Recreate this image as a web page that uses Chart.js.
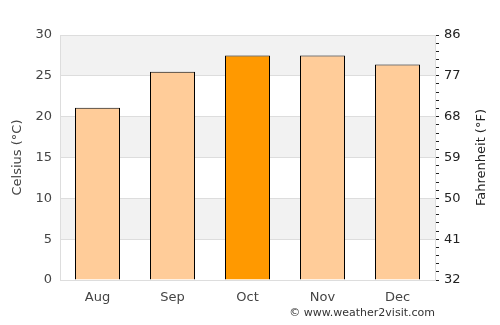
<!DOCTYPE html>
<html>
<head>
<meta charset="utf-8">
<script src="https://cdn.jsdelivr.net/npm/chart.js@4"></script>
<style>
  html, body { margin: 0; padding: 0; background: #fff; }
  #wrap { width: 500px; height: 325px; }
</style>
</head>
<body>
<div id="wrap"><canvas id="tempChart" width="500" height="325"></canvas></div>
<script>
const months = ['Aug', 'Sep', 'Oct', 'Nov', 'Dec'];
const celsius = [21.1, 25.5, 27.5, 27.5, 26.4];
const barColors = ['#ffcc99', '#ffcc99', '#ff9900', '#ffcc99', '#ffcc99'];
const celsiusTicks = [0, 5, 10, 15, 20, 25, 30];
const fahrenheitTicks = [32, 41, 50, 59, 68, 77, 86];

const fontFamily = '"DejaVu Sans", sans-serif';

// alternating grey bands behind the grid and bars
const bandsPlugin = {
    id: 'bands',
    beforeDraw(chart) {
        const { ctx, chartArea, scales } = chart;
        const y = scales.y;
        ctx.save();
        ctx.fillStyle = '#f2f2f2';
        for (let i = celsiusTicks.length - 1; i > 0; i -= 2) {
            const top = y.getPixelForValue(celsiusTicks[i]);
            const bottom = y.getPixelForValue(celsiusTicks[i - 1]);
            ctx.fillRect(chartArea.left, top, chartArea.right - chartArea.left, bottom - top);
        }
        ctx.restore();
    }
};

// axis titles and credit line
const textPlugin = {
    id: 'texts',
    afterDraw(chart) {
        const ctx = chart.ctx;
        const area = chart.chartArea;
        const midY = (area.top + area.bottom) / 2;
        ctx.save();
        ctx.textAlign = 'center';
        ctx.textBaseline = 'middle';
        ctx.font = '13px ' + fontFamily;

        ctx.save();
        ctx.translate(18, midY);
        ctx.rotate(-Math.PI / 2);
        ctx.fillStyle = '#444';
        ctx.fillText('Celsius (°C)', 0, 0);
        ctx.restore();

        ctx.save();
        ctx.translate(482, midY);
        ctx.rotate(-Math.PI / 2);
        ctx.fillStyle = '#222';
        ctx.fillText('Fahrenheit (°F)', 0, 0);
        ctx.restore();

        ctx.font = '11px ' + fontFamily;
        ctx.fillStyle = '#333';
        ctx.textAlign = 'right';
        ctx.fillText('\u00a9 www.weather2visit.com', 435, 313);
        ctx.restore();
    }
};

const ctx = document.getElementById('tempChart').getContext('2d');
new Chart(ctx, {
    type: 'bar',
    data: {
        labels: months,
        datasets: [{
            data: celsius,
            backgroundColor: barColors,
            borderColor: '#000',
            borderWidth: 1,
            borderSkipped: 'bottom',
            barPercentage: 0.6,
            categoryPercentage: 1
        }]
    },
    options: {
        responsive: false,
        animation: false,
        devicePixelRatio: 1,
        layout: { padding: { top: 35, left: 0, right: 0, bottom: 0 } },
        plugins: {
            legend: { display: false },
            tooltip: { enabled: false }
        },
        scales: {
            x: {
                grid: { display: false },
                border: { color: '#dddddd' },
                ticks: { color: '#444', font: { family: fontFamily, size: 13 }, padding: 2 },
                afterFit(scale) { scale.height = 45; }
            },
            y: {
                position: 'left',
                min: 0,
                max: 30,
                ticks: { stepSize: 5, color: '#444', font: { family: fontFamily, size: 13 }, padding: 8 },
                grid: { color: '#dddddd', drawTicks: false },
                border: { color: '#dddddd' },
                afterFit(scale) { scale.width = 60; }
            },
            y2: {
                position: 'right',
                min: 0,
                max: 30,
                ticks: {
                    stepSize: 1,
                    autoSkip: false,
                    color: '#222',
                    font: { family: fontFamily, size: 13 },
                    padding: 5,
                    callback: function (v) {
                        return v % 5 === 0 ? String(fahrenheitTicks[v / 5]) : '';
                    }
                },
                grid: { drawOnChartArea: false, color: '#222', tickLength: 4 },
                border: { color: '#dddddd' },
                afterFit(scale) { scale.width = 65; }
            }
        }
    },
    plugins: [bandsPlugin, textPlugin]
});
</script>
</body>
</html>
